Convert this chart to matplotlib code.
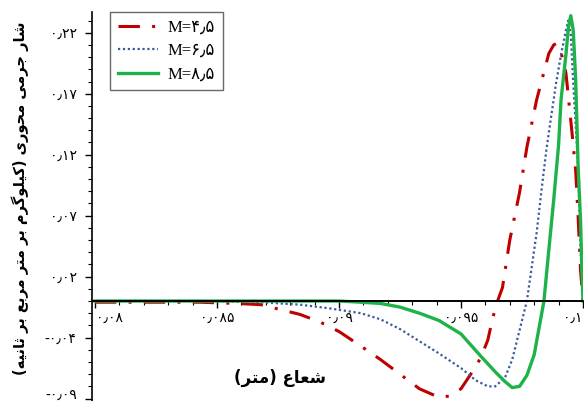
import matplotlib
matplotlib.use('Agg')
import matplotlib.pyplot as plt
from matplotlib.ticker import FixedLocator, MultipleLocator
from matplotlib.transforms import ScaledTranslation

# values (radius in m, axial mass flux)
x_red = [0.08, 0.0843, 0.0858, 0.0868, 0.0876, 0.0884, 0.0892, 0.0900, 0.0909,
         0.0917, 0.0925, 0.0933, 0.0941, 0.0945, 0.0950, 0.0954, 0.0958, 0.0961,
         0.0963, 0.0965, 0.0967, 0.0970, 0.0974, 0.0977, 0.0981, 0.0986, 0.0988,
         0.0989, 0.0991, 0.0993, 0.0995, 0.0997, 0.0998, 0.0999, 0.1]
y_red = [-0.001, -0.001, -0.002, -0.003, -0.007, -0.011, -0.017, -0.025, -0.037,
         -0.048, -0.060, -0.072, -0.079, -0.078, -0.072, -0.060, -0.047, -0.032,
         -0.014, 0.0, 0.011, 0.050, 0.089, 0.126, 0.165, 0.203, 0.210,
         0.211, 0.204, 0.187, 0.148, 0.107, 0.069, 0.025, 0.0]
x_blue = [0.08, 0.0843, 0.0868, 0.0884, 0.0896, 0.0909, 0.0917, 0.0925, 0.0933,
          0.0941, 0.0950, 0.0956, 0.0961, 0.0964, 0.0968, 0.0971, 0.0973, 0.0975,
          0.0977, 0.0979, 0.0981, 0.0983, 0.0985, 0.0987, 0.0989, 0.0991, 0.0993,
          0.0994, 0.0995, 0.0996, 0.0998, 0.0999, 0.1]
y_blue = [0.0, 0.0, -0.001, -0.003, -0.006, -0.010, -0.015, -0.023, -0.033,
          -0.043, -0.055, -0.065, -0.070, -0.070, -0.063, -0.048, -0.032, -0.016,
          0.0, 0.028, 0.056, 0.091, 0.124, 0.152, 0.179, 0.202, 0.222,
          0.230, 0.218, 0.179, 0.110, 0.042, 0.0]
x_green = [0.08, 0.0884, 0.0900, 0.0909, 0.0917, 0.0925, 0.0933, 0.0941, 0.0950,
           0.0958, 0.0964, 0.0968, 0.0971, 0.0974, 0.0977, 0.0980, 0.0982, 0.0984,
           0.0986, 0.0988, 0.0990, 0.0991, 0.0993, 0.0994, 0.0995, 0.0996, 0.0997,
           0.0998, 0.0999, 0.09995, 0.1]
y_green = [0.0, 0.0, 0.0, -0.001, -0.002, -0.005, -0.010, -0.016, -0.027,
           -0.045, -0.058, -0.066, -0.071, -0.070, -0.061, -0.044, -0.022, 0.0,
           0.042, 0.083, 0.128, 0.165, 0.202, 0.224, 0.234, 0.222, 0.181,
           0.110, 0.066, 0.028, 0.0]

labels = ['M=۴٫۵', 'M=۶٫۵', 'M=۸٫۵']
x_ticks = [0.08, 0.085, 0.09, 0.095, 0.1]
x_ticklabels = ['۰٫۰۸', '۰٫۰۸۵', '۰٫۰۹', '۰٫۰۹۵', '۰٫۱']
y_ticks = [0.22, 0.17, 0.12, 0.07, 0.02, -0.03, -0.08]
y_ticklabels = ['۰٫۲۲', '۰٫۱۷', '۰٫۱۲', '۰٫۰۷', '۰٫۰۲', '-۰٫۰۴', '-۰٫۰۹']
xlabel_fa = 'شعاع (متر)'
ylabel_fa = 'شار جرمی محوری (کیلوگرم بر متر مربع بر ثانیه)'

# tiny arabic shaper: matplotlib does no joining / bidi on its own
FORMS = {  # iso, fin, ini, med (None -> right-joining only)
    'ا': ('\uFE8D', '\uFE8E', None, None),
    'ب': ('\uFE8F', '\uFE90', '\uFE91', '\uFE92'),
    'ت': ('\uFE95', '\uFE96', '\uFE97', '\uFE98'),
    'ث': ('\uFE99', '\uFE9A', '\uFE9B', '\uFE9C'),
    'ج': ('\uFE9D', '\uFE9E', '\uFE9F', '\uFEA0'),
    'ح': ('\uFEA1', '\uFEA2', '\uFEA3', '\uFEA4'),
    'ر': ('\uFEAD', '\uFEAE', None, None),
    'ش': ('\uFEB5', '\uFEB6', '\uFEB7', '\uFEB8'),
    'ع': ('\uFEC9', '\uFECA', '\uFECB', '\uFECC'),
    'ل': ('\uFEDD', '\uFEDE', '\uFEDF', '\uFEE0'),
    'م': ('\uFEE1', '\uFEE2', '\uFEE3', '\uFEE4'),
    'ن': ('\uFEE5', '\uFEE6', '\uFEE7', '\uFEE8'),
    'ه': ('\uFEE9', '\uFEEA', '\uFEEB', '\uFEEC'),
    'و': ('\uFEED', '\uFEEE', None, None),
    'ی': ('\uFBFC', '\uFBFD', '\uFBFE', '\uFBFF'),
    'ک': ('\uFB8E', '\uFB8F', '\uFB90', '\uFB91'),
    'گ': ('\uFB92', '\uFB93', '\uFB94', '\uFB95'),
}


def shape(text):
    out = []
    for i, ch in enumerate(text):
        if ch not in FORMS:
            out.append({'(': ')', ')': '('}.get(ch, ch))
            continue
        prev = text[i - 1] if i > 0 else ''
        nxt = text[i + 1] if i + 1 < len(text) else ''
        jp = prev in FORMS and FORMS[prev][2] is not None
        jn = nxt in FORMS and FORMS[ch][2] is not None
        iso, fin, ini, med = FORMS[ch]
        if jp and jn:
            out.append(med)
        elif jp:
            out.append(fin)
        elif jn:
            out.append(ini)
        else:
            out.append(iso)
    return ''.join(reversed(out))


plt.rcParams['font.family'] = ['DejaVu Sans']

fig = plt.figure(figsize=(5.84, 4.01), dpi=100)
ax = fig.add_axes([92 / 584, 0.0, 491 / 584, 389 / 401])

ax.plot(x_red, y_red, color='#c00000', lw=2.2, dashes=(7, 4, 1, 4), label=labels[0])
ax.plot(x_blue, y_blue, color='#3a5a9a', lw=1.6, linestyle=(0, (1, 1.2)), label=labels[1])
ax.plot(x_green, y_green, color='#1db34a', lw=2.4, label=labels[2])

ax.set_xlim(0.07988, 0.1)
ax.set_ylim(-0.082, 0.237)

ax.spines['top'].set_visible(False)
ax.spines['right'].set_visible(False)
ax.spines['bottom'].set_position(('data', 0))
ax.spines['bottom'].set_linewidth(1.4)
ax.spines['left'].set_linewidth(1.2)

ax.xaxis.set_major_locator(FixedLocator(x_ticks))
ax.set_xticklabels(x_ticklabels, fontsize=10)
ax.xaxis.set_minor_locator(MultipleLocator(0.001))
ax.yaxis.set_major_locator(FixedLocator(y_ticks))
ax.set_yticklabels(y_ticklabels, fontsize=10)
ax.yaxis.set_minor_locator(MultipleLocator(0.01))
ax.tick_params(which='major', length=5, width=1, direction='out', pad=2)
ax.tick_params(axis='y', which='major', pad=6)
ax.tick_params(which='minor', length=3, width=0.8, direction='out')

# nudge edge labels: first x label off the y axis, last x / lowest y inside the figure
xl = ax.get_xticklabels()[0]
xl.set_transform(xl.get_transform() + ScaledTranslation(0.15, 0, fig.dpi_scale_trans))
xr = ax.get_xticklabels()[-1]
xr.set_transform(xr.get_transform() + ScaledTranslation(-0.1, 0, fig.dpi_scale_trans))
yl = ax.get_yticklabels()[-1]
yl.set_transform(yl.get_transform() + ScaledTranslation(0, 0.05, fig.dpi_scale_trans))

fig.text(0.034, 0.505, shape(ylabel_fa), rotation=90, ha='center', va='center',
         fontsize=10.5, fontweight='bold')
fig.text(0.48, 0.057, shape(xlabel_fa), ha='center', va='center',
         fontsize=12, fontweight='bold')

leg = ax.legend(loc='upper left', bbox_to_anchor=(0.037, 1.0), frameon=True,
                fancybox=False, edgecolor='#444444', handlelength=2.4,
                prop={'family': ['Liberation Serif', 'DejaVu Sans'], 'size': 12},
                borderaxespad=0.0, labelspacing=0.45, handletextpad=0.6,
                borderpad=0.45)
leg.get_frame().set_linewidth(1.0)

fig.savefig('out.png', dpi=100)
